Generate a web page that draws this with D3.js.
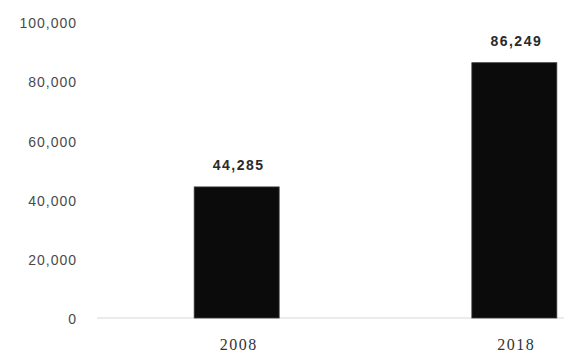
<!DOCTYPE html>
<html><head><meta charset="utf-8">
<script src="https://cdn.jsdelivr.net/npm/d3@7"></script>
<style>body{margin:0;background:#fff}svg{display:block}</style>
</head><body>
<svg id="c" width="564" height="354"></svg>
<script>
const categories = ["2008", "2018"];
const values = [44285, 86249];
const tickValues = [0, 20000, 40000, 60000, 80000, 100000];

const svg = d3.select("#c");
const x = d3.scaleBand().domain(categories).range([97, 654]).paddingInner(0.694).paddingOuter(0.35);
const y = d3.scaleLinear().domain([0, 100000]).range([318, 22]);
const fmt = d3.format(",");

// baseline
svg.append("line").attr("x1", 97).attr("x2", 564).attr("y1", y(0)).attr("y2", y(0))
  .attr("stroke", "#e4e4e4").attr("stroke-width", 1.5);

// y axis labels
const yAxis = d3.axisLeft(y).tickValues(tickValues).tickFormat(fmt).tickSize(0).tickPadding(0);
const gy = svg.append("g").attr("transform", "translate(77,0)").call(yAxis);
gy.select(".domain").remove();
gy.selectAll("text").attr("font-family", "Liberation Sans, Arial, sans-serif")
  .attr("font-size", 14).attr("letter-spacing", 1).attr("fill", "#4a4a4a").attr("dy", "0.4em");

// bars
svg.selectAll("rect.bar").data(categories).enter().append("rect").attr("class", "bar")
  .attr("x", d => x(d)).attr("width", x.bandwidth())
  .attr("y", (d, i) => y(values[i])).attr("height", (d, i) => y(0) - y(values[i]))
  .attr("fill", "#0b0b0b").attr("stroke", "#3a3a3a").attr("stroke-width", 0.8);

// value labels
svg.selectAll("text.val").data(categories).enter().append("text").attr("class", "val")
  .attr("x", d => x(d) + x.bandwidth() / 2 + 2).attr("y", (d, i) => y(values[i]) - 17)
  .attr("text-anchor", "middle").attr("font-family", "Liberation Sans, Arial, sans-serif")
  .attr("font-weight", "bold").attr("font-size", 14).attr("letter-spacing", 1.5)
  .attr("fill", "#2a2a2a").text((d, i) => fmt(values[i]));

// x labels
const xAxis = d3.axisBottom(x).tickSize(0).tickPadding(0);
const gx = svg.append("g").attr("transform", "translate(2,339)").call(xAxis);
gx.select(".domain").remove();
gx.selectAll("text").attr("font-family", "Liberation Serif, Times New Roman, serif")
  .attr("font-size", 16).attr("letter-spacing", 1.5).attr("fill", "#333");
</script>
</body></html>
